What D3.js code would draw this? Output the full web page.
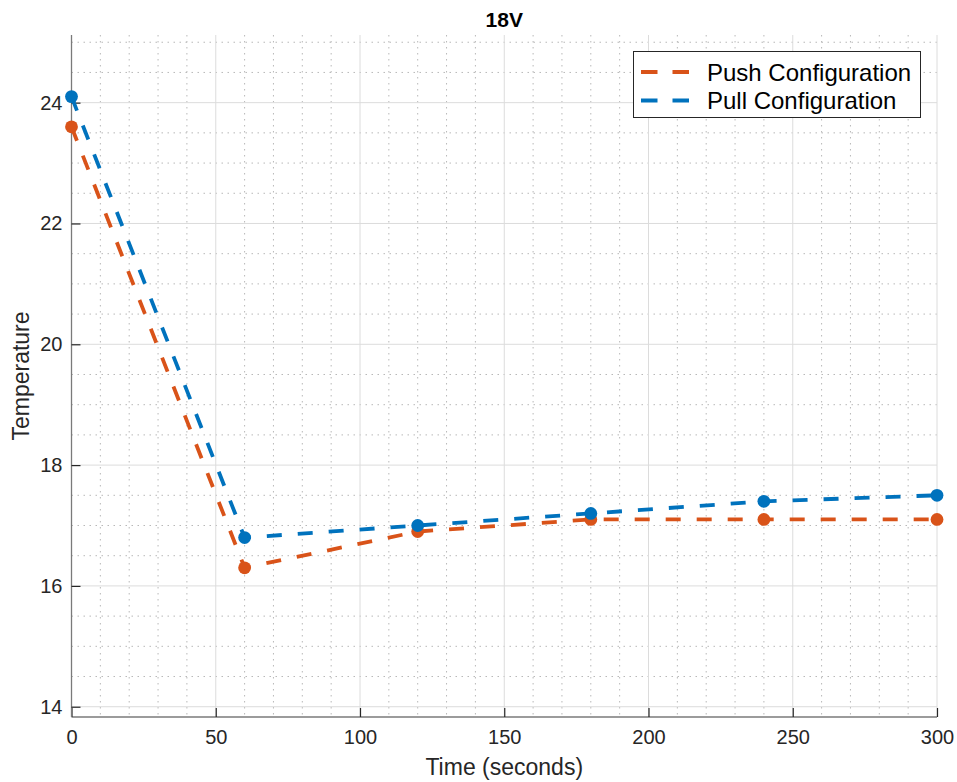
<!DOCTYPE html>
<html>
<head>
<meta charset="utf-8">
<script src="https://cdn.jsdelivr.net/npm/d3@7"></script>
<style>
  html, body { margin: 0; padding: 0; background: #fff; }
  svg { display: block; font-family: "Liberation Sans", Arial, Helvetica, sans-serif; }
</style>
</head>
<body>
<svg id="chart" width="957" height="782"></svg>
<script>
// Measurement times (seconds)
const times = [0, 60, 120, 180, 240, 300];
// Temperature readings for each fan configuration
const pushTemps = [23.6, 16.3, 16.9, 17.1, 17.1, 17.1];
const pullTemps = [24.1, 16.8, 17.0, 17.2, 17.4, 17.5];
const seriesNames = ["Push Configuration", "Pull Configuration"];
const seriesColors = ["#D95319", "#0072BD"];
const xTicks = [0, 50, 100, 150, 200, 250, 300];
const yTicks = [14, 16, 18, 20, 22, 24];
const titleText = "18V";
const xLabel = "Time (seconds)";
const yLabel = "Temperature";

const svg = d3.select("#chart");
const plotLeft = 71.5, plotRight = 937, plotTop = 35, plotBottom = 717;

const x = d3.scaleLinear().domain([0, 300]).range([plotLeft, plotRight]);
const y = d3.scaleLinear().domain([13.83, 25.12]).range([plotBottom, plotTop]);

const xMinor = d3.range(0, 301, 10);
const yMinor = d3.range(14, 25.01, 0.5);

// Minor grid (dotted)
const grid = svg.append("g");
grid.selectAll("line.xmin").data(xMinor.filter(v => v % 50 !== 0)).join("line")
  .attr("x1", d => x(d)).attr("x2", d => x(d)).attr("y1", plotTop).attr("y2", plotBottom)
  .attr("stroke", "#b8b8b8").attr("stroke-width", 1).attr("stroke-dasharray", "1.5,4.5");
grid.selectAll("line.ymin").data(yMinor.filter(v => v % 2 !== 0)).join("line")
  .attr("y1", d => y(d)).attr("y2", d => y(d)).attr("x1", plotLeft).attr("x2", plotRight)
  .attr("stroke", "#b8b8b8").attr("stroke-width", 1).attr("stroke-dasharray", "1.5,4.5");
// Major grid
grid.selectAll("line.xmaj").data(xTicks.filter(v => v !== 0)).join("line")
  .attr("x1", d => x(d)).attr("x2", d => x(d)).attr("y1", plotTop).attr("y2", plotBottom)
  .attr("stroke", "#dcdcdc").attr("stroke-width", 1);
grid.selectAll("line.ymaj").data(yTicks).join("line")
  .attr("y1", d => y(d)).attr("y2", d => y(d)).attr("x1", plotLeft).attr("x2", plotRight)
  .attr("stroke", "#dcdcdc").attr("stroke-width", 1);

// Axes with inward ticks
const xAxis = d3.axisBottom(x).tickValues(xTicks).tickSize(-9).tickPadding(17).tickFormat(d3.format("d"));
const yAxis = d3.axisLeft(y).tickValues(yTicks).tickSize(-9).tickPadding(17).tickFormat(d3.format("d"));

const gx = svg.append("g").attr("transform", `translate(0,${plotBottom})`).call(xAxis);
const gy = svg.append("g").attr("transform", `translate(${plotLeft},0)`).call(yAxis);
[gx, gy].forEach(g => {
  g.select(".domain").attr("stroke", "#7a7a7a").attr("stroke-width", 1.3);
  g.selectAll(".tick line").attr("stroke", "#262626").attr("stroke-width", 1.2);
  g.selectAll(".tick text").attr("fill", "#262626").style("font-size", "20px")
    .style("font-family", "'Liberation Sans', Arial, sans-serif");
});
gx.select(".domain").attr("d", `M${plotLeft},0H${plotRight}`);
gy.select(".domain").attr("d", `M0,${plotBottom}V${plotTop}`);
gx.selectAll(".tick text").attr("dy", "0.71em").attr("y", 13);
gy.selectAll(".tick text").attr("x", -9);

// Series
const series = [pushTemps, pullTemps];
const line = d3.line().x((d, i) => x(times[i])).y(d => y(d));
series.forEach((vals, k) => {
  const g = svg.append("g");
  g.append("path").datum(vals).attr("d", line)
    .attr("fill", "none").attr("stroke", seriesColors[k]).attr("stroke-width", 3.8)
    .attr("stroke-dasharray", "15,16");
  g.selectAll("circle").data(vals).join("circle")
    .attr("cx", (d, i) => x(times[i])).attr("cy", d => y(d)).attr("r", 6.4)
    .attr("fill", seriesColors[k]);
});

// Title and axis labels
svg.append("text").attr("x", (plotLeft + plotRight) / 2).attr("y", 26.5).attr("text-anchor", "middle")
  .style("font-size", "21px").style("font-weight", "bold").attr("fill", "#000").text(titleText);
svg.append("text").attr("x", (plotLeft + plotRight) / 2).attr("y", 775).attr("text-anchor", "middle")
  .style("font-size", "23px").attr("fill", "#262626").text(xLabel);
svg.append("text").attr("transform", `translate(29,${(plotTop + plotBottom) / 2}) rotate(-90)`)
  .attr("text-anchor", "middle").style("font-size", "23px").attr("fill", "#262626").text(yLabel);

// Legend
const lg = svg.append("g");
lg.append("rect").attr("x", 633.5).attr("y", 51.5).attr("width", 287).attr("height", 66)
  .attr("fill", "#fff").attr("stroke", "#262626").attr("stroke-width", 1);
seriesNames.forEach((name, k) => {
  const cy = 72 + k * 28.5;
  lg.append("line").attr("x1", 641).attr("x2", 689).attr("y1", cy).attr("y2", cy)
    .attr("stroke", seriesColors[k]).attr("stroke-width", 3.8).attr("stroke-dasharray", "16.5,15");
  lg.append("text").attr("x", 707).attr("y", cy).attr("dy", "0.36em")
    .style("font-size", "24px").attr("fill", "#000").text(name);
});
</script>
</body>
</html>
